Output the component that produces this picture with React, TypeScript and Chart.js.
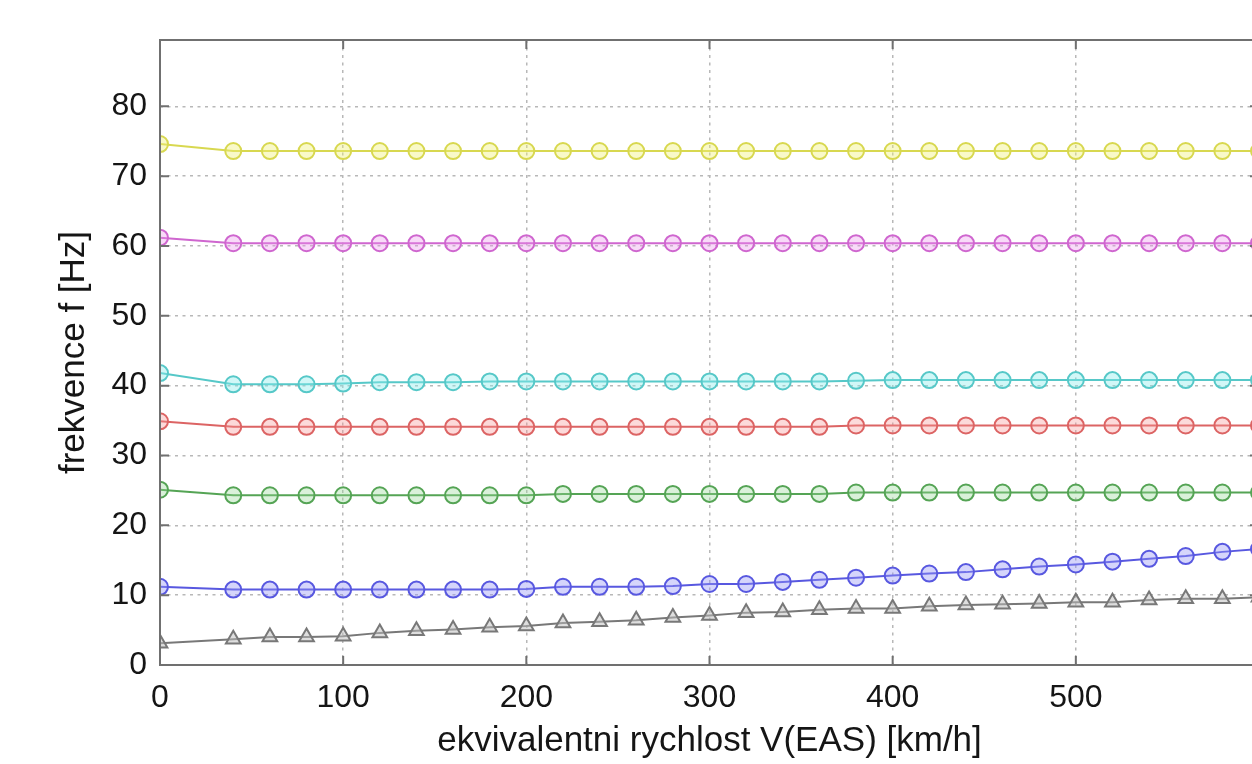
import React, { useEffect, useRef } from "react";
import { Chart, registerables } from "chart.js";

Chart.register(...registerables);

// x values: equivalent airspeed V(EAS) [km/h]
const speeds = [0, 40, 60, 80, 100, 120, 140, 160, 180, 200, 220, 240, 260, 280, 300, 320, 340, 360, 380, 400, 420, 440, 460, 480, 500, 520, 540, 560, 580, 600];

// frequencies [Hz]
const yellowSeries = [74.6, 73.6, 73.6, 73.6, 73.6, 73.6, 73.6, 73.6, 73.6, 73.6, 73.6, 73.6, 73.6, 73.6, 73.6, 73.6, 73.6, 73.6, 73.6, 73.6, 73.6, 73.6, 73.6, 73.6, 73.6, 73.6, 73.6, 73.6, 73.6, 73.6];
const magentaSeries = [61.2, 60.4, 60.4, 60.4, 60.4, 60.4, 60.4, 60.4, 60.4, 60.4, 60.4, 60.4, 60.4, 60.4, 60.4, 60.4, 60.4, 60.4, 60.4, 60.4, 60.4, 60.4, 60.4, 60.4, 60.4, 60.4, 60.4, 60.4, 60.4, 60.4];
const cyanSeries = [41.8, 40.2, 40.2, 40.2, 40.3, 40.5, 40.5, 40.5, 40.6, 40.6, 40.6, 40.6, 40.6, 40.6, 40.6, 40.6, 40.6, 40.6, 40.7, 40.8, 40.8, 40.8, 40.8, 40.8, 40.8, 40.8, 40.8, 40.8, 40.8, 40.8];
const redSeries = [34.9, 34.1, 34.1, 34.1, 34.1, 34.1, 34.1, 34.1, 34.1, 34.1, 34.1, 34.1, 34.1, 34.1, 34.1, 34.1, 34.1, 34.1, 34.3, 34.3, 34.3, 34.3, 34.3, 34.3, 34.3, 34.3, 34.3, 34.3, 34.3, 34.3];
const greenSeries = [25.1, 24.3, 24.3, 24.3, 24.3, 24.3, 24.3, 24.3, 24.3, 24.3, 24.5, 24.5, 24.5, 24.5, 24.5, 24.5, 24.5, 24.5, 24.7, 24.7, 24.7, 24.7, 24.7, 24.7, 24.7, 24.7, 24.7, 24.7, 24.7, 24.7];
const blueSeries = [11.2, 10.8, 10.8, 10.8, 10.8, 10.8, 10.8, 10.8, 10.8, 10.9, 11.2, 11.2, 11.2, 11.3, 11.6, 11.6, 11.9, 12.2, 12.5, 12.8, 13.1, 13.3, 13.7, 14.1, 14.4, 14.8, 15.2, 15.6, 16.2, 16.6];
const graySeries = [3.1, 3.7, 4.0, 4.0, 4.1, 4.6, 4.9, 5.1, 5.4, 5.6, 6.0, 6.2, 6.4, 6.8, 7.1, 7.5, 7.6, 7.9, 8.1, 8.1, 8.4, 8.6, 8.7, 8.8, 9.0, 9.0, 9.3, 9.5, 9.5, 9.7];

// tick labels shown on the axes
const xTickLabels = [0, 100, 200, 300, 400, 500];
const yTickLabels = [0, 10, 20, 30, 40, 50, 60, 70, 80];

const xTitle = "ekvivalentni rychlost V(EAS) [km/h]";
const yTitle = "frekvence f [Hz]";

const FONT = "'Liberation Sans', Arial, sans-serif";
const TEXT = "#151515";

const framePlugin = {
  id: "matlabFrame",
  afterDraw(chart: any) {
    const { ctx, chartArea, scales } = chart;
    const { left, right, top, bottom } = chartArea;
    ctx.save();
    ctx.strokeStyle = "#707070";
    ctx.lineWidth = 2;
    ctx.strokeRect(left, top, right - left, bottom - top);
    const tl = 9;
    ctx.beginPath();
    for (const t of scales.x.ticks) {
      const px = scales.x.getPixelForValue(t.value);
      ctx.moveTo(px, bottom);
      ctx.lineTo(px, bottom - tl);
      ctx.moveTo(px, top);
      ctx.lineTo(px, top + tl);
    }
    for (const t of scales.y.ticks) {
      const py = scales.y.getPixelForValue(t.value);
      ctx.moveTo(left, py);
      ctx.lineTo(left + tl, py);
      ctx.moveTo(right, py);
      ctx.lineTo(right - tl, py);
    }
    ctx.stroke();
    ctx.restore();
  },
};

function ds(data: number[], color: string, fill: string, style: string) {
  return {
    data,
    borderColor: color,
    backgroundColor: fill,
    borderWidth: 2,
    pointStyle: style,
    pointRadius: style === "triangle" ? 8.5 : 8,
    pointBorderWidth: 2,
    pointBorderColor: color,
    pointBackgroundColor: fill,
    tension: 0,
  };
}

export default function App() {
  const canvasRef = useRef<HTMLCanvasElement | null>(null);

  useEffect(() => {
    document.body.style.margin = "0";
    const canvas = canvasRef.current;
    if (!canvas) return;
    const chart = new Chart(canvas, {
      type: "line",
      data: {
        labels: speeds,
        datasets: [
          ds(yellowSeries, "#d8d850", "rgba(240,240,120,0.4)", "circle"),
          ds(magentaSeries, "#cf66cf", "rgba(235,150,235,0.35)", "circle"),
          ds(cyanSeries, "#56c8c8", "rgba(140,235,235,0.4)", "circle"),
          ds(redSeries, "#dc6464", "rgba(245,150,150,0.35)", "circle"),
          ds(greenSeries, "#55a455", "rgba(150,215,150,0.35)", "circle"),
          ds(blueSeries, "#5858e0", "rgba(150,150,245,0.4)", "circle"),
          ds(graySeries, "#787878", "rgba(190,190,190,0.5)", "triangle"),
        ].map((d, i) => ({ ...d, label: "s" + i })),
      },
      options: {
        responsive: false,
        animation: false,
        layout: { padding: { left: 0, right: 61, top: 40, bottom: 0 } },
        plugins: {
          legend: { display: false },
          tooltip: { enabled: false },
        },
        scales: {
          x: {
            type: "linear",
            min: 0,
            max: 600,
            afterFit: (scale: any) => {
              scale.height = 99;
            },
            afterBuildTicks: (scale: any) => {
              scale.ticks = xTickLabels.map((v) => ({ value: v }));
            },
            ticks: {
              stepSize: 100,
              autoSkip: false,
              maxRotation: 0,
              padding: 14,
              color: TEXT,
              font: { family: FONT, size: 32 },
            },
            grid: {
              color: "#b8b8b8",
              lineWidth: 1.5,
              drawTicks: false,
            },
            border: { display: false, dash: [3, 4.5] },
            title: {
              display: true,
              text: xTitle,
              color: TEXT,
              font: { family: FONT, size: 35 },
              padding: { top: 0, bottom: 2 },
            },
          },
          y: {
            type: "linear",
            min: 0,
            max: 89.5,
            afterFit: (scale: any) => {
              scale.width = 160;
            },
            afterBuildTicks: (scale: any) => {
              scale.ticks = yTickLabels.map((v) => ({ value: v }));
            },
            ticks: {
              stepSize: 10,
              padding: 13,
              color: TEXT,
              font: { family: FONT, size: 32 },
            },
            grid: {
              color: "#b8b8b8",
              lineWidth: 1.5,
              drawTicks: false,
            },
            border: { display: false, dash: [3, 4.5] },
            title: {
              display: true,
              text: yTitle,
              color: TEXT,
              font: { family: FONT, size: 35 },
              padding: { top: 53, bottom: 0 },
            },
          },
        },
      },
      plugins: [framePlugin],
    } as any);
    return () => chart.destroy();
  }, []);

  return (
    <div
      style={{
        position: "fixed",
        left: 0,
        top: 0,
        width: 1252,
        height: 764,
        overflow: "hidden",
        background: "#ffffff",
      }}
    >
      <canvas ref={canvasRef} width={1320} height={764} style={{ display: "block" }} />
    </div>
  );
}
